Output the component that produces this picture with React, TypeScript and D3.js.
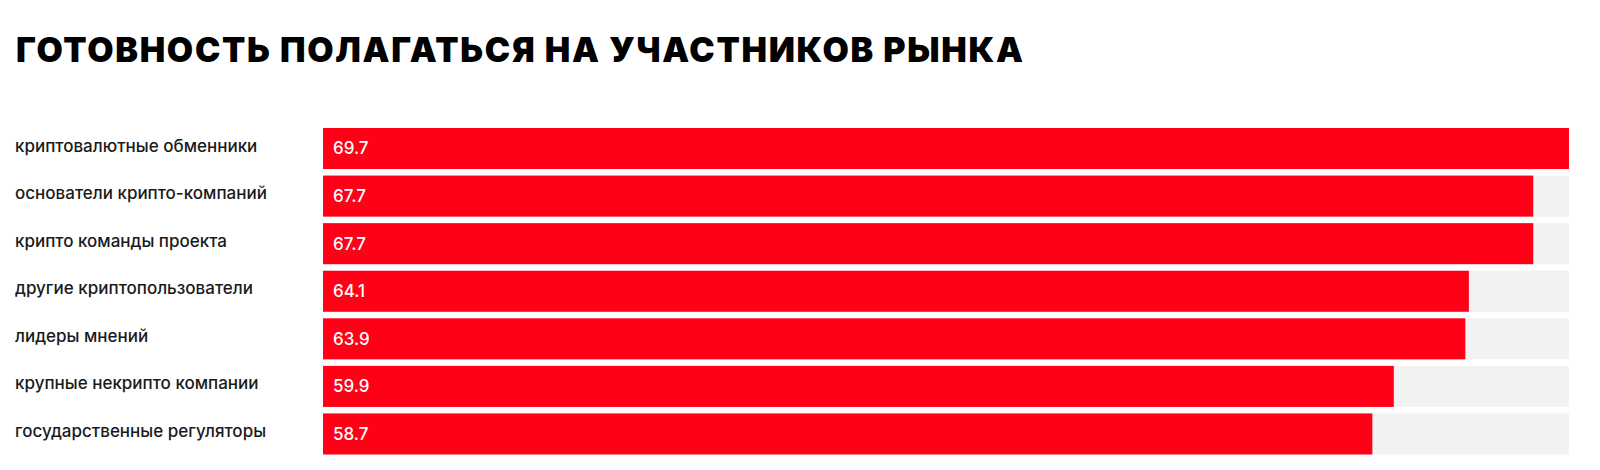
import React from 'react';
import * as d3 from 'd3';

const title = 'ГОТОВНОСТЬ ПОЛАГАТЬСЯ НА УЧАСТНИКОВ РЫНКА';

const categories = [
  'криптовалютные обменники',
  'основатели крипто-компаний',
  'крипто команды проекта',
  'другие криптопользователи',
  'лидеры мнений',
  'крупные некрипто компании',
  'государственные регуляторы',
];

const values = [69.7, 67.7, 67.7, 64.1, 63.9, 59.9, 58.7];

const width = 1600;
const height = 470;
const red = '#ff0016';
const track = '#f2f2f2';

const App: React.FC = () => {
  const x = d3.scaleLinear()
    .domain([0, d3.max(values) as number])
    .range([323, 1569]);

  const y = d3.scaleBand<string>()
    .domain(categories)
    .range([128, 454.5])
    .paddingInner(0.137)
    .paddingOuter(0);

  const font = 'Inter, "Open Sans", sans-serif';

  return (
    <svg
      width={width}
      height={height}
      style={{ position: 'absolute', left: 0, top: 0, background: '#fff' }}
    >
      {/* Title */}
      <text
        x={16}
        y={62}
        fontFamily={font}
        fontWeight={900}
        fontSize={34}
        fill="#000"
        textLength={1007}
        lengthAdjust="spacing"
      >
        {title}
      </text>

      {categories.map((c, i) => {
        const yTop = y(c) as number;
        const bh = y.bandwidth();
        const cy = yTop + bh / 2;
        return (
          <g key={c}>
            <rect x={x(0)} y={yTop} width={x.range()[1] - x(0)} height={bh} fill={track} />
            <rect x={x(0)} y={yTop} width={x(values[i]) - x(0)} height={bh} fill={red} />
            <text
              x={15}
              y={cy + 3}
              fontFamily={font}
              fontWeight={500}
              fontSize={17}
              fill="#1a1a1a"
            >
              {c}
            </text>
            <text
              x={x(0) + 10}
              y={cy}
              dy="0.35em"
              fontFamily={font}
              fontWeight={500}
              fontSize={17}
              fill="#fff"
            >
              {values[i].toFixed(1)}
            </text>
          </g>
        );
      })}
    </svg>
  );
};

export default App;
